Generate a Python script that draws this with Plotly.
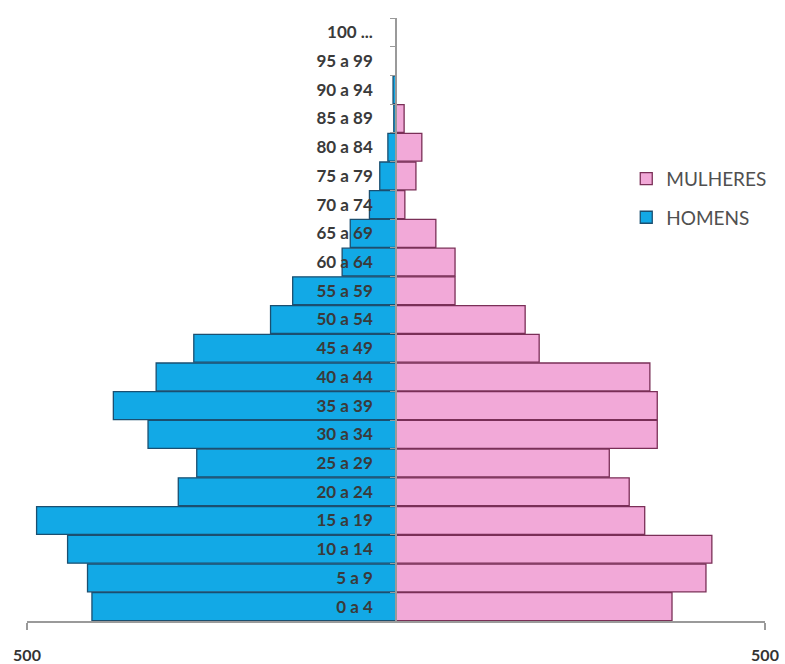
import plotly.graph_objects as go

age_groups = ["0 a 4", "5 a 9", "10 a 14", "15 a 19", "20 a 24", "25 a 29", "30 a 34",
              "35 a 39", "40 a 44", "45 a 49", "50 a 54", "55 a 59", "60 a 64", "65 a 69",
              "70 a 74", "75 a 79", "80 a 84", "85 a 89", "90 a 94", "95 a 99", "100 ..."]
homens = [412, 418, 445, 487, 295, 270, 336, 383, 325, 274, 170, 140, 73, 62, 36, 22, 11, 3, 4, 0, 0]
mulheres = [374, 420, 428, 337, 316, 289, 354, 354, 344, 194, 175, 80, 80, 54, 12, 27, 35, 11, 0, 0, 0]
x_tick_vals = [-500, 500]
x_tick_text = ["500", "500"]

fig = go.Figure()
fig.add_trace(go.Bar(
    y=age_groups, x=mulheres, orientation="h", name="MULHERES",
    legendgroup="m",
    marker=dict(color="#F2A9D8", line=dict(color="#7A2F57", width=1.3)),
))
fig.add_trace(go.Bar(
    y=age_groups, x=[-v for v in homens], orientation="h", name="HOMENS",
    legendgroup="h",
    marker=dict(color="#12A9E6", line=dict(color="#1B4F70", width=1.3)),
))

fig.update_layout(
    width=785, height=664,
    margin=dict(l=27, r=20, t=18, b=43, autoexpand=False),
    paper_bgcolor="white", plot_bgcolor="white",
    barmode="relative", bargap=0.03,
    showlegend=True,
    legend=dict(
        x=0.812, y=0.765, xanchor="left", yanchor="top",
        traceorder="grouped", tracegroupgap=11, itemwidth=30,
        font=dict(family="Lato", size=19, color="#505050"),
        bgcolor="rgba(0,0,0,0)",
    ),
    xaxis=dict(
        range=[-500, 500], tickvals=x_tick_vals, ticktext=x_tick_text,
        showgrid=False, zeroline=False, automargin=False,
        showline=True, linecolor="#9a9a9a", linewidth=1.5,
        ticks="outside", ticklen=7, tickcolor="#9a9a9a", tickwidth=1.5,
        ticklabelstandoff=12,
        tickfont=dict(family="Lato", size=16, color="#333333", weight="bold"),
        fixedrange=True,
    ),
    yaxis=dict(
        type="category", categoryorder="array", categoryarray=age_groups,
        range=[-0.5, 20.5], automargin=False,
        anchor="free", position=0.5,
        showgrid=False, zeroline=False,
        showline=True, linecolor="#9a9a9a", linewidth=1.5,
        ticks="outside", ticklen=5, tickcolor="#9a9a9a", tickson="boundaries",
        ticklabelstandoff=19,
        tickfont=dict(family="Lato", size=17, color="#3a3a3a", weight="bold"),
        layer="above traces",
    ),
)

fig.write_html("out.html")
